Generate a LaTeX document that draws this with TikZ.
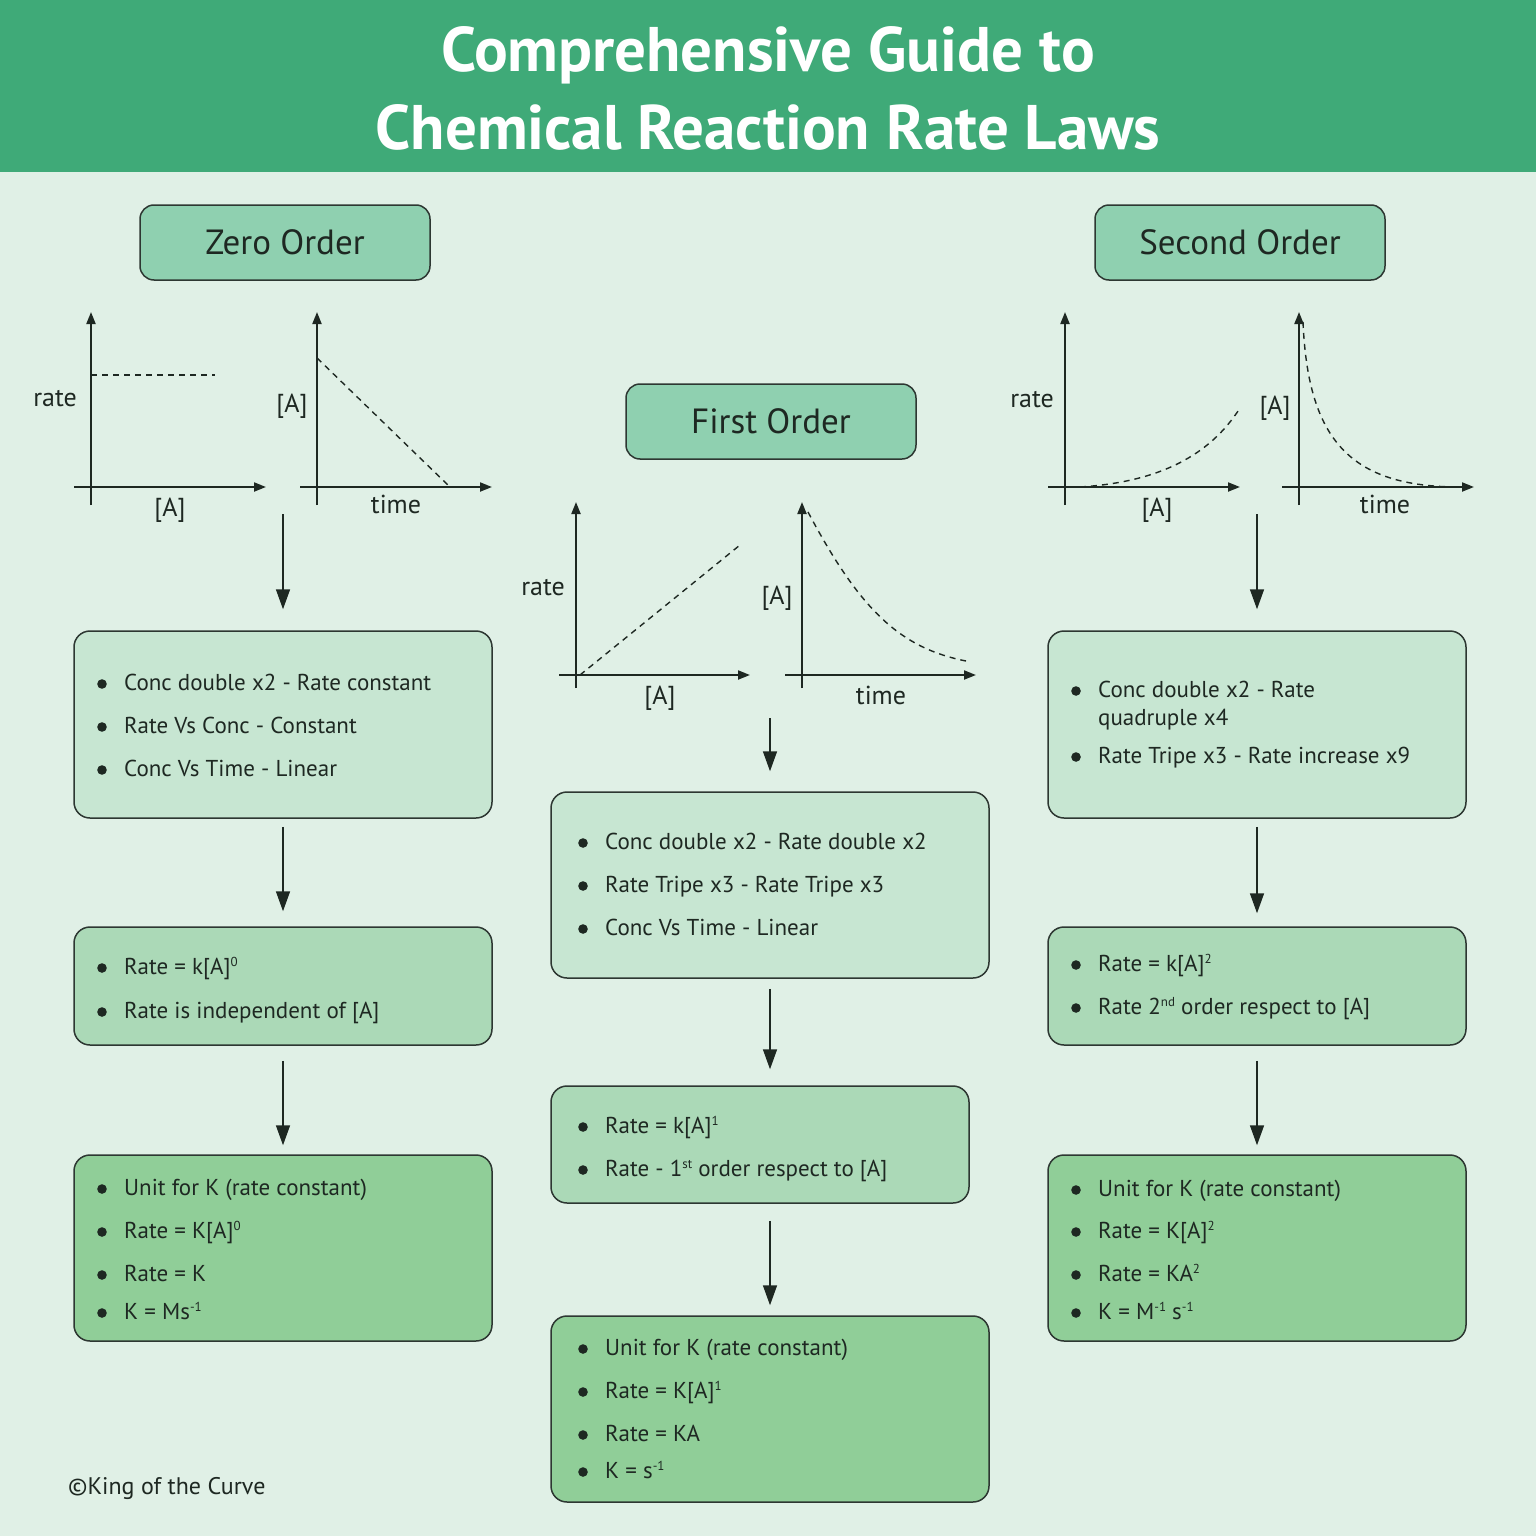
\documentclass[tikz,border=0pt]{standalone}
\usepackage{fontspec}
\setmainfont{PT Sans}
\usetikzlibrary{arrows.meta}
\definecolor{band}{RGB}{63,170,120}
\definecolor{bg}{RGB}{224,240,230}
\definecolor{hdr}{RGB}{143,208,176}
\definecolor{boxa}{RGB}{199,230,210}
\definecolor{boxb}{RGB}{171,217,183}
\definecolor{boxc}{RGB}{144,206,152}
\definecolor{ink}{RGB}{30,40,34}
\definecolor{edge}{RGB}{45,55,50}
\tikzset{
  hdrbox/.style={draw=edge, line width=1.5pt, fill=hdr, rounded corners=14pt, minimum width=290pt, minimum height=75pt, inner sep=0pt, font=\fontsize{35}{40}\selectfont, text=ink},
  card/.style={draw=edge, line width=1.5pt, rounded corners=16pt, inner sep=0pt},
  itm/.style={anchor=base west, font=\fontsize{23}{27}\selectfont, text=ink, inner sep=0pt},
  axisln/.style={line width=2pt, draw=ink, -{Triangle[length=12pt,width=9pt]}},
  curveln/.style={line width=1.4pt, draw=ink, dash pattern=on 6pt off 5pt},
  lab/.style={font=\fontsize{26}{30}\selectfont, text=ink, inner sep=0pt},
  flow/.style={line width=1.6pt, draw=ink, -{Triangle[length=20pt,width=14pt]}},
  ttl/.style={text=white, font=\fontsize{63}{72}\selectfont\bfseries, inner sep=0pt},
}
\newcommand\bitem[4]{\fill[ink] (#2-22,#3+2) circle (4.8pt); \node[itm] (#1) at (#2,#3+8) {#4};}
\newcommand\sps[1]{\smash{\raisebox{7.5pt}{\fontsize{13}{13}\selectfont #1}}}
\begin{document}
\begin{tikzpicture}[x=1pt,y=-1pt]
\useasboundingbox (0,0) rectangle (1536,1536);
\fill[bg] (0,0) rectangle (1536,1536);
\fill[band] (0,0) rectangle (1536,172);
\node[ttl] (t1) at (768,55) {Comprehensive Guide to};
\node[ttl] (t2) at (768,127) {Chemical Reaction Rate Laws};

% ---------- Zero order ----------
\node[hdrbox] (hz) at (285,242.5) {Zero Order};
\draw[axisln] (91,505) -- (91,312);
\draw[axisln] (74,487) -- (266,487);
\draw[curveln] (91,375) -- (215,375);
\node[lab] (zr) at (55,399) {rate};
\node[lab] (za) at (170,510) {[A]};
\draw[axisln] (317,505) -- (317,312);
\draw[axisln] (300,487) -- (492,487);
\draw[curveln] (317,358) -- (450,487);
\node[lab] (zc) at (292,406) {[A]};
\node[lab] (zt) at (396,504) {time};

\node[card, fill=boxa, minimum width=418pt, minimum height=187pt] (z1) at (283,724.5) {};
\bitem{z1a}{124}{682}{Conc double x2 - Rate constant}
\bitem{z1b}{124}{725}{Rate Vs Conc - Constant}
\bitem{z1c}{124}{768}{Conc Vs Time - Linear}
\node[card, fill=boxb, minimum width=418pt, minimum height=118pt] (z2) at (283,986) {};
\bitem{z2a}{124}{966}{Rate = k[A]\sps{0}}
\bitem{z2b}{124}{1010}{Rate is independent of [A]}
\node[card, fill=boxc, minimum width=418pt, minimum height=186pt] (z3) at (283,1248) {};
\bitem{z3a}{124}{1187}{Unit for K (rate constant)}
\bitem{z3b}{124}{1230}{Rate = K[A]\sps{0}}
\bitem{z3c}{124}{1273}{Rate = K}
\bitem{z3d}{124}{1311}{K = Ms\sps{-1}}

\coordinate (zg) at (283,514);
\draw[flow, shorten >=21pt] (zg) -- (z1);
\draw[flow, shorten <=8pt, shorten >=15pt] (z1) -- (z2);
\draw[flow, shorten <=15pt, shorten >=9pt] (z2) -- (z3);

% ---------- First order ----------
\node[hdrbox] (hf) at (771,421.5) {First Order};
\draw[axisln] (576,688) -- (576,502);
\draw[axisln] (559,675) -- (750,675);
\draw[curveln] (580,675) -- (740,545);
\node[lab] (fr) at (543,588) {rate};
\node[lab] (fa) at (660,698) {[A]};
\draw[axisln] (802,688) -- (802,502);
\draw[axisln] (785,675) -- (976,675);
\draw[curveln] (808,512) .. controls (860,610) and (900,648) .. (966,661);
\node[lab] (fc) at (777,598) {[A]};
\node[lab] (ft) at (881,695) {time};

\node[card, fill=boxa, minimum width=438pt, minimum height=186pt] (f1) at (770,885) {};
\bitem{f1a}{605}{841}{Conc double x2 - Rate double x2}
\bitem{f1b}{605}{884}{Rate Tripe x3 - Rate Tripe x3}
\bitem{f1c}{605}{927}{Conc Vs Time - Linear}
\node[card, fill=boxb, minimum width=418pt, minimum height=117pt] (f2) at (760,1144.5) {};
\bitem{f2a}{605}{1125}{Rate = k[A]\sps{1}}
\bitem{f2b}{605}{1168}{Rate - 1\sps{st} order respect to [A]}
\node[card, fill=boxc, minimum width=438pt, minimum height=186pt] (f3) at (770,1409) {};
\bitem{f3a}{605}{1347}{Unit for K (rate constant)}
\bitem{f3b}{605}{1390}{Rate = K[A]\sps{1}}
\bitem{f3c}{605}{1433}{Rate = KA}
\bitem{f3d}{605}{1470}{K = s\sps{-1}}

\coordinate (fg) at (770,718);
\draw[flow, shorten >=20pt] (fg) -- (f1);
\draw[flow, shorten <=10pt, shorten >=16pt] (f1.south) -- (f1.south |- f2.north);
\draw[flow, shorten <=17pt, shorten >=10pt] (f1.south |- f2.south) -- (f3.north);

% ---------- Second order ----------
\node[hdrbox] (hs) at (1240,242.5) {Second Order};
\draw[axisln] (1065,505) -- (1065,312);
\draw[axisln] (1048,487) -- (1240,487);
\draw[curveln] (1080,487) .. controls (1160,482) and (1210,455) .. (1240,408);
\node[lab] (sr) at (1032,400) {rate};
\node[lab] (sa) at (1157,510) {[A]};
\draw[axisln] (1299,505) -- (1299,312);
\draw[axisln] (1282,487) -- (1474,487);
\draw[curveln] (1303,322) .. controls (1308,440) and (1350,487) .. (1460,487);
\node[lab] (sc) at (1275,408) {[A]};
\node[lab] (st) at (1385,504) {time};

\node[card, fill=boxa, minimum width=418pt, minimum height=187pt] (s1) at (1257,724.5) {};
\bitem{s1a}{1098}{689}{Conc double x2 - Rate}
\node[itm] (s1b) at (1098,725) {quadruple x4};
\bitem{s1c}{1098}{755}{Rate Tripe x3 - Rate increase x9}
\node[card, fill=boxb, minimum width=418pt, minimum height=118pt] (s2) at (1257,986) {};
\bitem{s2a}{1098}{963}{Rate = k[A]\sps{2}}
\bitem{s2b}{1098}{1006}{Rate 2\sps{nd} order respect to [A]}
\node[card, fill=boxc, minimum width=418pt, minimum height=186pt] (s3) at (1257,1248) {};
\bitem{s3a}{1098}{1188}{Unit for K (rate constant)}
\bitem{s3b}{1098}{1230}{Rate = K[A]\sps{2}}
\bitem{s3c}{1098}{1273}{Rate = KA\sps{2}}
\bitem{s3d}{1098}{1311}{K = M\sps{-1} s\sps{-1}}

\coordinate (sg) at (1257,514);
\draw[flow, shorten >=21pt] (sg) -- (s1);
\draw[flow, shorten <=8pt, shorten >=13pt] (s1) -- (s2);
\draw[flow, shorten <=15pt, shorten >=9pt] (s2) -- (s3);

\node[anchor=west, inner sep=0pt, text=ink, font=\fontsize{24}{28}\selectfont] (foot) at (68,1488) {©King of the Curve};
\end{tikzpicture}
\end{document}
